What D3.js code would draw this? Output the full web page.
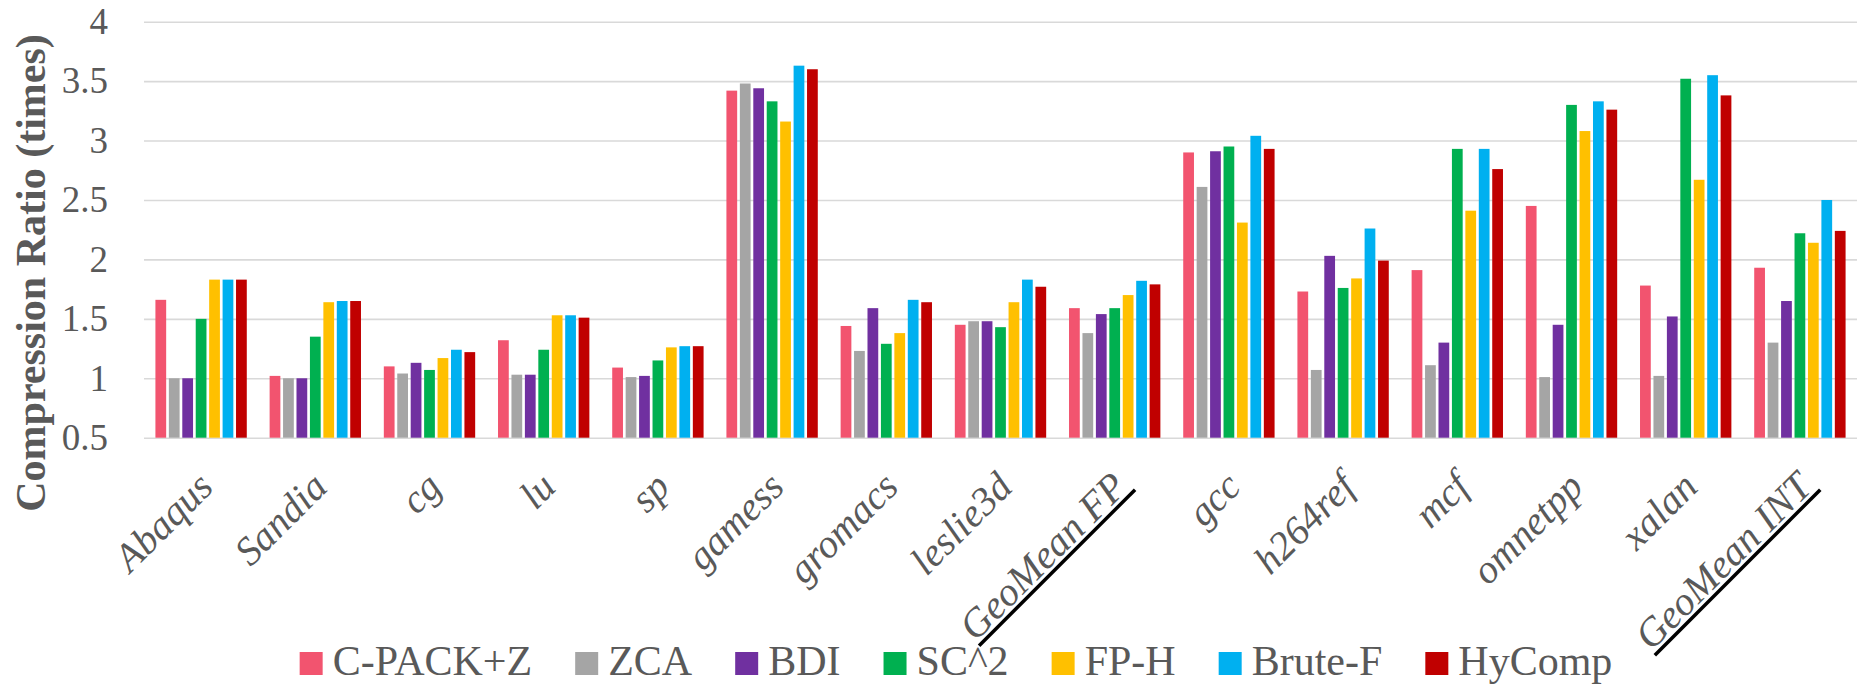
<!DOCTYPE html>
<html>
<head>
<meta charset="utf-8">
<script src="https://cdn.jsdelivr.net/npm/d3@7"></script>
<style>
  body { margin: 0; background: #fff; }
  svg { display: block; }
  text { font-family: "Liberation Serif", "Times New Roman", serif; fill: #595959; }
</style>
</head>
<body>
<svg id="chart"></svg>
<script>
// categories and series
const categories = ["Abaqus", "Sandia", "cg", "lu", "sp", "gamess", "gromacs", "leslie3d",
  "GeoMean FP", "gcc", "h264ref", "mcf", "omnetpp", "xalan", "GeoMean INT"];
const underlined = ["GeoMean FP", "GeoMean INT"];

const seriesNames = ["C-PACK+Z", "ZCA", "BDI", "SC^2", "FP-H", "Brute-F", "HyComp"];
const cpackZ = [1.66, 1.02, 1.10, 1.32, 1.09, 3.42, 1.44, 1.45, 1.59, 2.90, 1.73, 1.91, 2.45, 1.78, 1.93];
const zca    = [1.00, 1.00, 1.04, 1.03, 1.01, 3.48, 1.23, 1.48, 1.38, 2.61, 1.07, 1.11, 1.01, 1.02, 1.30];
const bdi    = [1.00, 1.00, 1.13, 1.03, 1.02, 3.44, 1.59, 1.48, 1.54, 2.91, 2.03, 1.30, 1.45, 1.52, 1.65];
const sc2    = [1.50, 1.35, 1.07, 1.24, 1.15, 3.33, 1.29, 1.43, 1.59, 2.95, 1.76, 2.93, 3.30, 3.52, 2.22];
const fpH    = [1.83, 1.64, 1.17, 1.53, 1.26, 3.16, 1.38, 1.64, 1.70, 2.31, 1.84, 2.41, 3.08, 2.67, 2.14];
const bruteF = [1.83, 1.65, 1.24, 1.53, 1.27, 3.63, 1.66, 1.83, 1.82, 3.04, 2.26, 2.93, 3.33, 3.55, 2.50];
const hyComp = [1.83, 1.65, 1.22, 1.51, 1.27, 3.60, 1.64, 1.77, 1.79, 2.93, 1.99, 2.76, 3.26, 3.38, 2.24];
const seriesValues = [cpackZ, zca, bdi, sc2, fpH, bruteF, hyComp];

const yTicks = [0.5, 1, 1.5, 2, 2.5, 3, 3.5, 4];
const colors = ["#F2546F", "#A5A5A5", "#7030A0", "#00B050", "#FFC000", "#00B0F0", "#C00000"];

const width = 1857, height = 685;
const plot = { left: 144, right: 1857, top: 21.7, bottom: 437.7 };
const serif = '"Liberation Serif", "Times New Roman", serif';

const svg = d3.select("#chart").attr("width", width).attr("height", height)
  .attr("font-family", serif);

// scales
const x0 = d3.scaleBand().domain(categories).range([plot.left, plot.right])
  .paddingInner(0.2).paddingOuter(0.1);
const x1 = d3.scaleBand().domain(seriesNames).range([0, x0.bandwidth()]).paddingInner(0.2);
const y = d3.scaleLinear().domain([0.5, 4]).range([plot.bottom, plot.top]);

// gridlines + y labels
const yAxis = d3.axisLeft(y).tickValues(yTicks).tickFormat(d => String(d))
  .tickSizeInner(-(plot.right - plot.left)).tickSizeOuter(0).tickPadding(36);
const yg = svg.append("g").attr("transform", `translate(${plot.left},0)`).call(yAxis)
  .attr("font-family", serif).attr("font-size", 37);
yg.select(".domain").remove();
yg.selectAll(".tick line").attr("stroke", "#D9D9D9").attr("stroke-width", 1.6);
yg.selectAll(".tick text").attr("fill", "#595959");

// bars
const rows = categories.map((c, i) => ({ cat: c, vals: seriesNames.map((s, j) => ({ s, j, v: seriesValues[j][i] })) }));
const groups = svg.append("g").selectAll("g").data(rows).join("g")
  .attr("transform", d => `translate(${x0(d.cat)},0)`);
groups.selectAll("rect").data(d => d.vals).join("rect")
  .attr("x", d => x1(d.s))
  .attr("width", x1.bandwidth())
  .attr("y", d => y(d.v))
  .attr("height", d => y(0.5) - y(d.v))
  .attr("fill", d => colors[d.j]);

// x labels, rotated
const xl = svg.append("g").selectAll("g").data(categories).join("g")
  .attr("transform", d => `translate(${x0(d) + x0.bandwidth() / 2 + 14},489) rotate(-45)`);
xl.append("text")
  .attr("text-anchor", "end")
  .attr("font-size", 40)
  .attr("font-style", "italic")
  .text(d => d);
xl.filter(d => underlined.includes(d)).each(function () {
  const g = d3.select(this);
  const len = g.select("text").node().getComputedTextLength();
  g.append("line").attr("x1", -len).attr("x2", 4).attr("y1", 5).attr("y2", 5)
    .attr("stroke", "#000").attr("stroke-width", 3.5);
});

// y title
svg.append("text")
  .attr("transform", `translate(45,273) rotate(-90)`)
  .attr("text-anchor", "middle")
  .attr("font-size", 42)
  .attr("font-weight", "bold")
  .text("Compression Ratio (times)");

// legend
const legend = svg.append("g");
let lx = 0;
seriesNames.forEach((s, j) => {
  const item = legend.append("g").attr("transform", `translate(${lx},0)`);
  item.append("rect").attr("x", 0).attr("y", 652).attr("width", 23).attr("height", 23).attr("fill", colors[j]);
  const t = item.append("text").attr("x", 33).attr("y", 675).attr("font-size", 42).text(s);
  lx += 33 + t.node().getComputedTextLength() + 43;
});
const legendW = lx - 43;
legend.attr("transform", `translate(${956 - legendW / 2},0)`);
</script>
</body>
</html>
